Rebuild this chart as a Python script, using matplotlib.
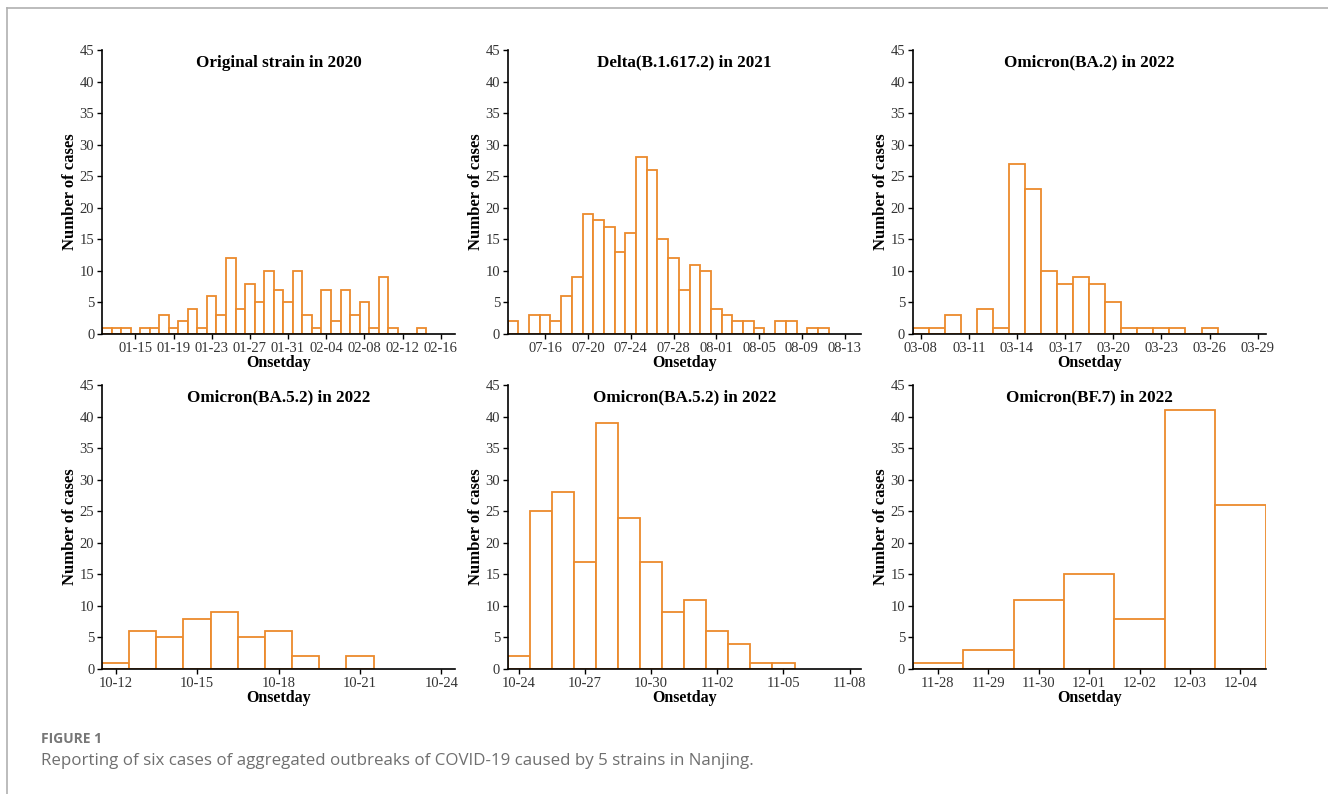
import numpy as np
import pandas as pd
import matplotlib
matplotlib.use("Agg")
import matplotlib.pyplot as plt
import matplotlib.dates as mdates
from matplotlib.lines import Line2D

# ----- data: first onset day + daily counts -----
titles = ["Original strain in 2020", "Delta(B.1.617.2) in 2021", "Omicron(BA.2) in 2022",
          "Omicron(BA.5.2) in 2022", "Omicron(BA.5.2) in 2022", "Omicron(BF.7) in 2022"]

orig_start = "2020-01-12"
orig_counts = [1, 1, 1, 0, 1, 1, 3, 1, 2, 4, 1, 6, 3, 12, 4, 8, 5, 10, 7, 5,
               10, 3, 1, 7, 2, 7, 3, 5, 1, 9, 1, 0, 0, 1]

delta_start = "2021-07-13"
delta_counts = [2, 0, 3, 3, 2, 6, 9, 19, 18, 17, 13, 16, 28, 26, 15, 12, 7, 11, 10,
                4, 3, 2, 2, 1, 0, 2, 2, 0, 1, 1]

ba2_start = "2022-03-08"
ba2_counts = [1, 1, 3, 0, 4, 1, 27, 23, 10, 8, 9, 8, 5, 1, 1, 1, 1, 0, 1]

ba52a_start = "2022-10-12"
ba52a_counts = [1, 6, 5, 8, 9, 5, 6, 2, 0, 2]

ba52b_start = "2022-10-24"
ba52b_counts = [2, 25, 28, 17, 39, 24, 17, 9, 11, 6, 4, 1, 1]

bf7_start = "2022-11-28"
bf7_counts = [1, 3, 11, 15, 8, 41, 26]

starts = [orig_start, delta_start, ba2_start, ba52a_start, ba52b_start, bf7_start]
counts = [orig_counts, delta_counts, ba2_counts, ba52a_counts, ba52b_counts, bf7_counts]

# x range (first / last day shown) and tick dates
x_first = ["2020-01-12", "2021-07-13", "2022-03-08", "2022-10-12", "2022-10-24", "2022-11-28"]
x_last = ["2020-02-17", "2021-08-14", "2022-03-29", "2022-10-24", "2022-11-08", "2022-12-04"]
tick_first = ["2020-01-15", "2021-07-16", "2022-03-08", "2022-10-12", "2022-10-24", "2022-11-28"]
tick_step = [4, 4, 3, 3, 3, 1]

bar_color = "#EC8A2C"
serif = "Liberation Serif"

fig = plt.figure(figsize=(13.28, 7.94), dpi=100)

W, H = 1328, 794
lefts = [102, 507.7, 912.7]
tops = [50, 385]
ax_w, ax_h = 353, 284

for i in range(6):
    r, c = divmod(i, 3)
    ax = fig.add_axes([lefts[c] / W, 1 - (tops[r] + ax_h) / H, ax_w / W, ax_h / H])

    days = pd.date_range(starts[i], periods=len(counts[i]), freq="D")
    ax.bar(mdates.date2num(days), counts[i], width=1.0, facecolor="white",
           edgecolor=bar_color, linewidth=1.3, align="center")

    lo = mdates.date2num(pd.Timestamp(x_first[i])) - 0.5
    hi = mdates.date2num(pd.Timestamp(x_last[i])) + 0.5
    ax.set_xlim(lo, hi)
    ax.set_ylim(0, 45)

    ticks = pd.date_range(tick_first[i], x_last[i], freq=f"{tick_step[i]}D")
    ax.set_xticks(mdates.date2num(ticks))
    ax.set_xticklabels([t.strftime("%m-%d") for t in ticks])
    ax.set_yticks(np.arange(0, 46, 5))

    for s in ["top", "right"]:
        ax.spines[s].set_visible(False)
    for s in ["left", "bottom"]:
        ax.spines[s].set_linewidth(1.2)
        ax.spines[s].set_zorder(3)

    ax.tick_params(direction="out", length=3.5, width=1, pad=2,
                   labelsize=10.5, labelcolor="#333333")
    for lab in ax.get_xticklabels() + ax.get_yticklabels():
        lab.set_family(serif)

    ax.set_ylabel("Number of cases", family=serif, fontweight="bold", fontsize=12)
    ax.yaxis.set_label_coords(-0.068, 0.5)
    ax.set_xlabel("Onsetday", family=serif, fontweight="bold", fontsize=11.5)
    ax.xaxis.set_label_coords(0.5, -0.075)

    ax.text(0.5, 0.955, titles[i], transform=ax.transAxes, ha="center", va="center",
            family=serif, fontweight="bold", fontsize=12.3)

# page frame and caption
fig.add_artist(Line2D([7 / W, 1], [1 - 8 / H, 1 - 8 / H], color="#b0b0b0", lw=1.2))
fig.add_artist(Line2D([7 / W, 7 / W], [0, 1 - 8 / H], color="#b0b0b0", lw=1.2))
fig.text(41 / W, 1 - 739 / H, "FIGURE 1", family="Open Sans", fontweight="bold",
         fontsize=10, color="#777777", va="center")
fig.text(41 / W, 1 - 761 / H,
         "Reporting of six cases of aggregated outbreaks of COVID-19 caused by 5 strains in Nanjing.",
         family="Open Sans", fontsize=12.2, color="#6f6f6f", va="center")

fig.savefig("out.png", dpi=100)
